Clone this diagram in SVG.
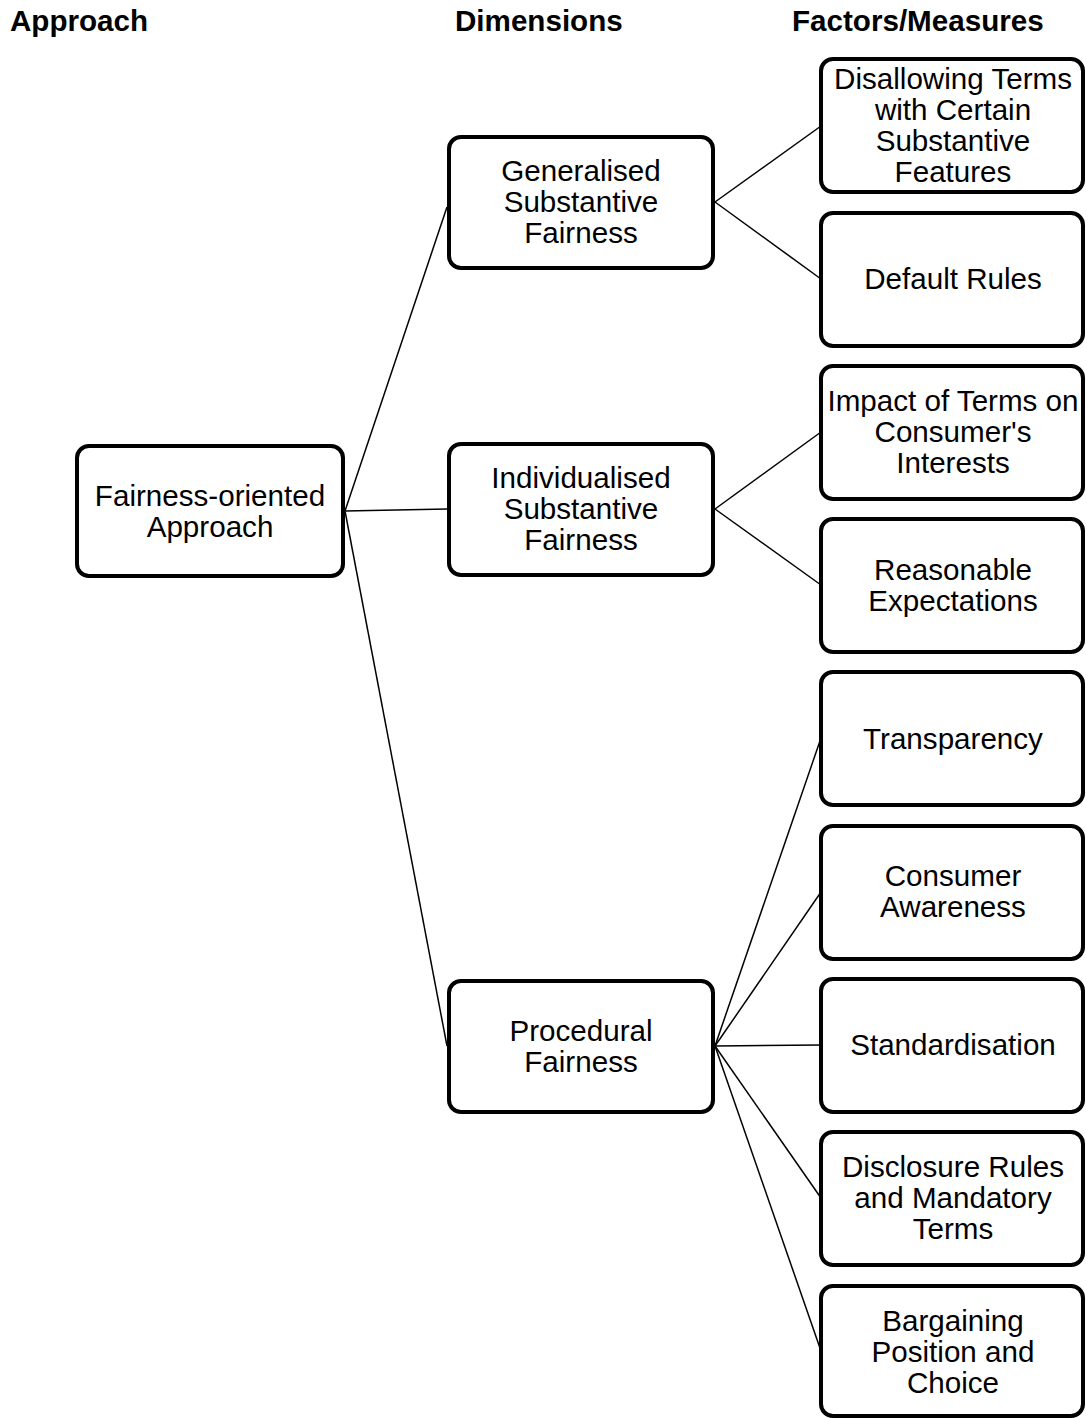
<svg xmlns="http://www.w3.org/2000/svg" width="1086" height="1418" viewBox="0 0 1086 1418">
<style>
.box{fill:#fff;stroke:#000;stroke-width:4}
.t{font-family:"Liberation Sans",Arial,sans-serif;font-size:29.6px;fill:#000;text-anchor:middle}
.h{font-family:"Liberation Sans",Arial,sans-serif;font-size:29.6px;font-weight:bold;fill:#000}
#connectors line{stroke:#000;stroke-width:1.5}
</style>
<rect width="1086" height="1418" fill="#fff"/>
<g id="headers">
<text class="h" x="10" y="31">Approach</text>
<text class="h" x="455" y="31">Dimensions</text>
<text class="h" x="792" y="31">Factors/Measures</text>
</g>
<g id="connectors">
<line x1="345" y1="511" x2="447" y2="207"/>
<line x1="345" y1="511" x2="447" y2="509"/>
<line x1="345" y1="511" x2="447" y2="1046"/>
<line x1="715" y1="202" x2="821" y2="126"/>
<line x1="715" y1="202" x2="821" y2="279"/>
<line x1="715" y1="509" x2="821" y2="432"/>
<line x1="715" y1="509" x2="821" y2="585"/>
<line x1="715" y1="1046" x2="821" y2="738"/>
<line x1="715" y1="1046" x2="821" y2="892"/>
<line x1="715" y1="1046" x2="821" y2="1045"/>
<line x1="715" y1="1046" x2="821" y2="1198"/>
<line x1="715" y1="1046" x2="821" y2="1351"/>
</g>
<g id="n-approach">
<rect class="box" x="77" y="446" width="266" height="130" rx="12"/>
<text class="t" x="210" y="506">Fairness-oriented</text>
<text class="t" x="210" y="537">Approach</text>
</g>
<g id="n-generalised">
<rect class="box" x="449" y="137" width="264" height="131" rx="12"/>
<text class="t" x="581" y="181">Generalised</text>
<text class="t" x="581" y="212">Substantive</text>
<text class="t" x="581" y="243">Fairness</text>
</g>
<g id="n-individualised">
<rect class="box" x="449" y="444" width="264" height="131" rx="12"/>
<text class="t" x="581" y="488">Individualised</text>
<text class="t" x="581" y="519">Substantive</text>
<text class="t" x="581" y="550">Fairness</text>
</g>
<g id="n-procedural">
<rect class="box" x="449" y="981" width="264" height="131" rx="12"/>
<text class="t" x="581" y="1041">Procedural</text>
<text class="t" x="581" y="1072">Fairness</text>
</g>
<g id="n-disallowing">
<rect class="box" x="821" y="59" width="262" height="133" rx="12"/>
<text class="t" x="953" y="89">Disallowing Terms</text>
<text class="t" x="953" y="120">with Certain</text>
<text class="t" x="953" y="151">Substantive</text>
<text class="t" x="953" y="182">Features</text>
</g>
<g id="n-default">
<rect class="box" x="821" y="213" width="262" height="133" rx="12"/>
<text class="t" x="953" y="289">Default Rules</text>
</g>
<g id="n-impact">
<rect class="box" x="821" y="366" width="262" height="133" rx="12"/>
<text class="t" x="953" y="411">Impact of Terms on</text>
<text class="t" x="953" y="442">Consumer's</text>
<text class="t" x="953" y="473">Interests</text>
</g>
<g id="n-reasonable">
<rect class="box" x="821" y="519" width="262" height="133" rx="12"/>
<text class="t" x="953" y="580">Reasonable</text>
<text class="t" x="953" y="611">Expectations</text>
</g>
<g id="n-transparency">
<rect class="box" x="821" y="672" width="262" height="133" rx="12"/>
<text class="t" x="953" y="749">Transparency</text>
</g>
<g id="n-awareness">
<rect class="box" x="821" y="826" width="262" height="133" rx="12"/>
<text class="t" x="953" y="886">Consumer</text>
<text class="t" x="953" y="917">Awareness</text>
</g>
<g id="n-standardisation">
<rect class="box" x="821" y="979" width="262" height="133" rx="12"/>
<text class="t" x="953" y="1055">Standardisation</text>
</g>
<g id="n-disclosure">
<rect class="box" x="821" y="1132" width="262" height="133" rx="12"/>
<text class="t" x="953" y="1177">Disclosure Rules</text>
<text class="t" x="953" y="1208">and Mandatory</text>
<text class="t" x="953" y="1239">Terms</text>
</g>
<g id="n-bargaining">
<rect class="box" x="821" y="1286" width="262" height="130" rx="12"/>
<text class="t" x="953" y="1331">Bargaining</text>
<text class="t" x="953" y="1362">Position and</text>
<text class="t" x="953" y="1393">Choice</text>
</g>
</svg>
